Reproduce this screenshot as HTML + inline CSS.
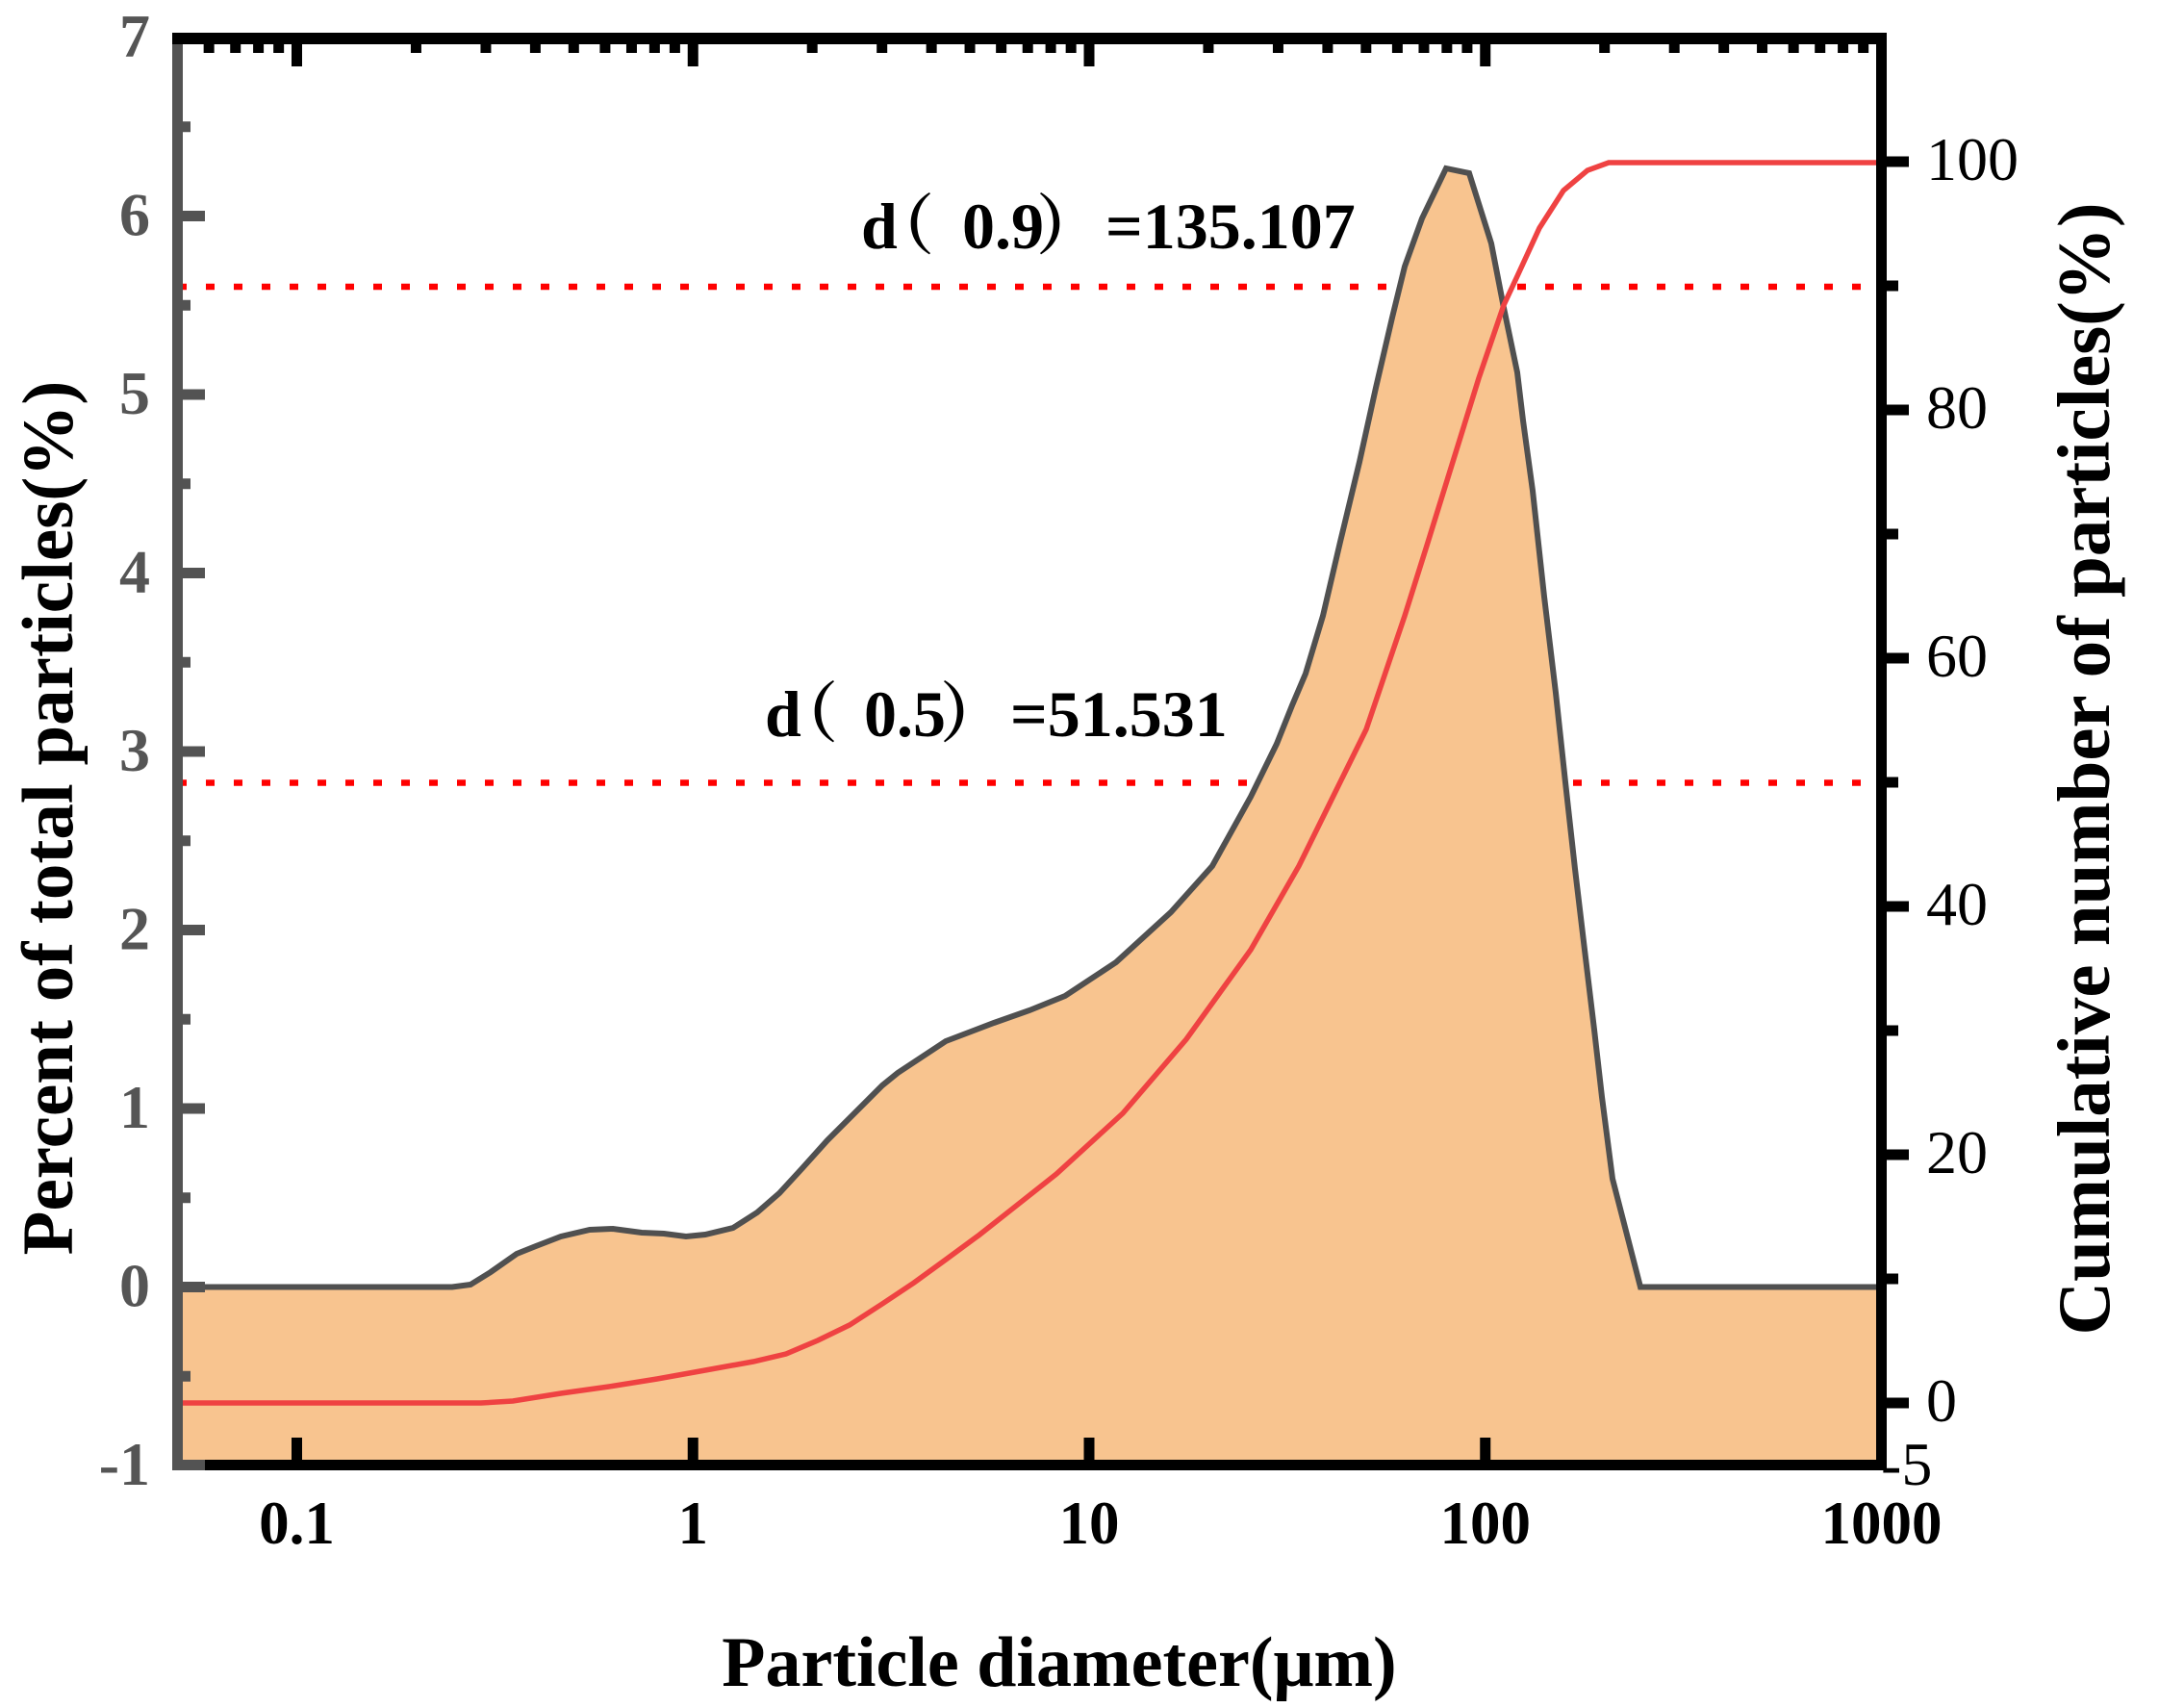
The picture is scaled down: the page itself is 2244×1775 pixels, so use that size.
<!DOCTYPE html>
<html>
<head>
<meta charset="utf-8">
<style>
html,body{margin:0;padding:0;background:#ffffff;}
svg{display:block;}
text{font-family:"Liberation Serif","Noto Serif CJK SC",serif;}
</style>
</head>
<body>
<svg xmlns="http://www.w3.org/2000/svg" width="2244" height="1775" viewBox="0 0 2244 1775">
<rect x="0" y="0" width="2244" height="1775" fill="#ffffff"/>

<!-- dotted reference lines (behind fill) -->
<line x1="185" y1="298" x2="1950" y2="298" stroke="#ff0000" stroke-width="6.5" stroke-dasharray="9 20"/>
<line x1="185" y1="813.5" x2="1950" y2="813.5" stroke="#ff0000" stroke-width="6.5" stroke-dasharray="9 20"/>

<!-- filled distribution -->
<path fill="#F8C48F" stroke="none" d="M190,1337.5 L470,1337.5 L489,1335 L510,1322 L537,1303 L557,1295 L583,1285 L613,1278 L637,1277 L667,1281 L690,1282 L713,1285 L733,1283 L762,1276 L787,1260 L810,1240 L833,1215 L860,1185 L883,1162 L917,1128 L933,1115 L983,1082 L1033,1063 L1070,1050 L1107,1035 L1160,1000 L1217,948 L1260,900 L1300,828 L1327,773 L1343,733 L1357,700 L1375,640 L1393,563 L1413,480 L1430,403 L1447,330 L1460,277 L1478,227 L1503,175 L1527,180 L1550,253 L1563,320 L1577,387 L1583,437 L1593,510 L1605,620 L1617,720 L1627,813 L1637,903 L1647,987 L1657,1070 L1665,1140 L1676,1225 L1705,1337.5 L1950,1337.5 L1950,1523 L190,1523 Z"/>

<!-- distribution line -->
<path fill="none" stroke="#505050" stroke-width="6" stroke-linejoin="miter" d="M190,1337.5 L470,1337.5 L489,1335 L510,1322 L537,1303 L557,1295 L583,1285 L613,1278 L637,1277 L667,1281 L690,1282 L713,1285 L733,1283 L762,1276 L787,1260 L810,1240 L833,1215 L860,1185 L883,1162 L917,1128 L933,1115 L983,1082 L1033,1063 L1070,1050 L1107,1035 L1160,1000 L1217,948 L1260,900 L1300,828 L1327,773 L1343,733 L1357,700 L1375,640 L1393,563 L1413,480 L1430,403 L1447,330 L1460,277 L1478,227 L1503,175 L1527,180 L1550,253 L1563,320 L1577,387 L1583,437 L1593,510 L1605,620 L1617,720 L1627,813 L1637,903 L1647,987 L1657,1070 L1665,1140 L1676,1225 L1705,1337.5 L1950,1337.5"/>

<!-- cumulative line -->
<path fill="none" stroke="#EF4242" stroke-width="5.5" d="M190,1458 L500,1458 L533,1456 L583,1448 L633,1441 L683,1433 L733,1424 L783,1415 L817,1407 L850,1393 L883,1377 L917,1355 L950,1333 L983,1309 L1017,1284 L1050,1258 L1098,1220 L1167,1157 L1233,1080 L1300,987 L1350,900 L1383,833 L1420,758 L1460,640 L1483,567 L1510,480 L1537,393 L1563,317 L1577,287 L1600,237 L1625,198 L1650,177 L1672,169 L1950,169"/>

<!-- axes -->
<rect x="179" y="40" width="11" height="1488" fill="#535353"/>
<rect x="190" y="1517" width="1771" height="11" fill="#000000"/>
<rect x="179" y="1517" width="34" height="11" fill="#535353"/>
<rect x="179" y="34" width="1782" height="12" fill="#000000"/>
<rect x="1950" y="34" width="11" height="1494" fill="#000000"/>

<!-- left ticks (gray) -->
<path stroke="#535353" stroke-width="11" fill="none" d="M190,224.5H213 M190,410H213 M190,595.5H213 M190,781H213 M190,966.5H213 M190,1152H213 M190,1337.5H213 M190,131.75H198 M190,317.25H198 M190,502.75H198 M190,688.25H198 M190,873.75H198 M190,1059.25H198 M190,1244.75H198 M190,1430.25H198"/>

<!-- right ticks -->
<path stroke="#000000" stroke-width="11" fill="none" d="M1961,168H1984 M1961,426H1984 M1961,684H1984 M1961,942H1984 M1961,1200H1984 M1961,1458H1984 M1961,297H1973 M1961,555H1973 M1961,813H1973 M1961,1071H1973 M1961,1329H1973"/>

<!-- top ticks -->
<path stroke="#000000" stroke-width="11" fill="none" d="M308.5,46V69 M720.25,46V69 M1132,46V69 M1543.75,46V69 M217.15,46V55 M244.72,46V55 M268.6,46V55 M289.66,46V55 M432.45,46V55 M504.95,46V55 M556.4,46V55 M596.3,46V55 M628.9,46V55 M656.47,46V55 M680.35,46V55 M701.41,46V55 M844.2,46V55 M916.7,46V55 M968.15,46V55 M1008.05,46V55 M1040.65,46V55 M1068.22,46V55 M1092.1,46V55 M1113.16,46V55 M1255.95,46V55 M1328.45,46V55 M1379.9,46V55 M1419.8,46V55 M1452.4,46V55 M1479.97,46V55 M1503.85,46V55 M1524.91,46V55 M1667.7,46V55 M1740.2,46V55 M1791.65,46V55 M1831.55,46V55 M1864.15,46V55 M1891.72,46V55 M1915.6,46V55 M1936.66,46V55"/>

<!-- bottom ticks -->
<path stroke="#000000" stroke-width="11" fill="none" d="M308.5,1517V1494 M720.25,1517V1494 M1132,1517V1494 M1543.75,1517V1494"/>

<!-- left tick labels -->
<g font-size="64" font-weight="bold" fill="#555555" text-anchor="end">
<text x="156" y="59">7</text>
<text x="156" y="244.5">6</text>
<text x="156" y="430">5</text>
<text x="156" y="615.5">4</text>
<text x="156" y="801">3</text>
<text x="156" y="986.5">2</text>
<text x="156" y="1172">1</text>
<text x="156" y="1357.5">0</text>
<text x="156" y="1543">-1</text>
</g>

<!-- right tick labels -->
<g font-size="64" fill="#000000" text-anchor="start">
<text x="2002" y="187">100</text>
<text x="2002" y="445">80</text>
<text x="2002" y="703">60</text>
<text x="2002" y="961">40</text>
<text x="2002" y="1219">20</text>
<text x="2002" y="1477">0</text>
<text x="1955" y="1543">-5</text>
</g>

<!-- x tick labels -->
<g font-size="63" font-weight="bold" fill="#000000" text-anchor="middle">
<text x="308.5" y="1604">0.1</text>
<text x="720.25" y="1604">1</text>
<text x="1132" y="1604">10</text>
<text x="1543.75" y="1604">100</text>
<text x="1955.5" y="1604">1000</text>
</g>

<!-- annotations -->
<g font-size="68" font-weight="bold" fill="#000000">
<text x="895" y="258">d</text>
<text x="903" y="258" font-family="'Noto Serif CJK SC','Noto Sans CJK SC',serif">（</text>
<text x="1000" y="258">0.9</text>
<text x="1077" y="258" font-family="'Noto Serif CJK SC','Noto Sans CJK SC',serif">）</text>
<text x="1149" y="258">=135.107</text>

<text x="795" y="765">d</text>
<text x="803" y="765" font-family="'Noto Serif CJK SC','Noto Sans CJK SC',serif">（</text>
<text x="898" y="765">0.5</text>
<text x="977" y="765" font-family="'Noto Serif CJK SC','Noto Sans CJK SC',serif">）</text>
<text x="1050" y="765">=51.531</text>
</g>

<!-- axis titles -->
<text transform="translate(75,850) rotate(-90)" font-size="75" font-weight="bold" fill="#000000" text-anchor="middle">Percent of total particles(%)</text>
<text transform="translate(2192,799) rotate(-90)" font-size="77" font-weight="bold" fill="#000000" text-anchor="middle">Cumulative number of particles(%)</text>
<text x="1101" y="1752" font-size="74" font-weight="bold" fill="#000000" text-anchor="middle">Particle diameter(μm)</text>
</svg>
</body>
</html>
